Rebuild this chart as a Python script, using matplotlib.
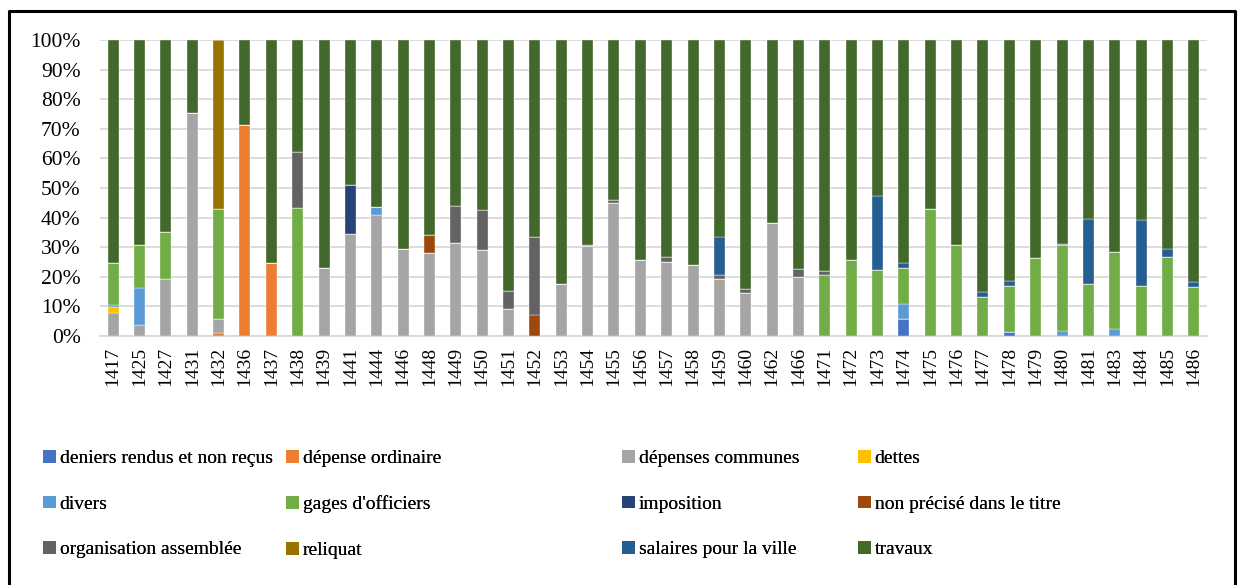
import numpy as np
import matplotlib
matplotlib.use("Agg")
import matplotlib.pyplot as plt
from matplotlib.patches import Patch
from matplotlib.lines import Line2D

years = ["1417", "1425", "1427", "1431", "1432", "1436", "1437", "1438", "1439", "1441",
         "1444", "1446", "1448", "1449", "1450", "1451", "1452", "1453", "1454", "1455",
         "1456", "1457", "1458", "1459", "1460", "1462", "1466", "1471", "1472", "1473",
         "1474", "1475", "1476", "1477", "1478", "1479", "1480", "1481", "1483", "1484",
         "1485", "1486"]

# share of each heading per year, in %
deniers_rendus = [0, 0, 0, 0, 0, 0, 0, 0, 0, 0,
                  0, 0, 0, 0, 0, 0, 0, 0, 0, 0,
                  0, 0, 0, 0, 0, 0, 0, 0, 0, 0,
                  5.9, 0, 0, 0, 1.4, 0, 0, 0, 0, 0,
                  0, 0]
depense_ordinaire = [0, 0, 0, 0, 0.9, 71.2, 24.7, 0, 0, 0,
                     0, 0, 0, 0, 0, 0, 0, 0, 0, 0,
                     0, 0, 0, 0, 0, 0, 0, 0, 0, 0,
                     0, 0, 0, 0, 0, 0, 0, 0, 0, 0,
                     0, 0]
depenses_communes = [7.9, 3.7, 19.3, 75.2, 4.8, 0, 0, 0, 23.1, 34.5,
                     40.9, 29.4, 28.0, 31.3, 29.1, 9.1, 0, 17.5, 30.4, 45.0,
                     25.7, 25.0, 23.9, 19.4, 14.5, 38.2, 19.8, 0, 0, 0,
                     0, 0, 0, 0, 0, 0, 0, 0, 0, 0,
                     0, 0]
dettes = [1.9, 0, 0, 0, 0, 0, 0, 0, 0, 0,
          0, 0, 0, 0, 0, 0, 0, 0, 0, 0,
          0, 0, 0, 0, 0, 0, 0, 0, 0, 0,
          0, 0, 0, 0, 0, 0, 0, 0, 0, 0,
          0, 0]
divers = [0.7, 12.4, 0, 0, 0, 0, 0, 0, 0, 0,
          2.6, 0, 0, 0, 0, 0, 0, 0, 0, 0,
          0, 0, 0, 0, 0, 0, 0, 0, 0, 0,
          4.8, 0, 0, 0, 0, 0, 1.8, 0, 2.3, 0,
          0, 0]
gages_officiers = [14.3, 14.8, 15.7, 0, 37.2, 0, 0, 43.2, 0, 0,
                   0, 0, 0, 0, 0, 0, 0, 0, 0, 0,
                   0, 0, 0, 0, 0, 0, 0, 20.5, 25.8, 22.4,
                   12.4, 42.8, 30.7, 13.3, 15.4, 26.4, 28.9, 17.5, 26.0, 16.9,
                   26.6, 16.6]
imposition = [0, 0, 0, 0, 0, 0, 0, 0, 0, 16.6,
              0, 0, 0, 0, 0, 0, 0, 0, 0, 0,
              0, 0, 0, 0, 0, 0, 0, 0, 0, 0,
              0, 0, 0, 0, 0, 0, 0, 0, 0, 0,
              0, 0]
non_precise = [0, 0, 0, 0, 0, 0, 0, 0, 0, 0,
               0, 0, 6.0, 0, 0, 0, 7.0, 0, 0, 0,
               0, 0, 0, 0, 0, 0, 0, 0, 0, 0,
               0, 0, 0, 0, 0, 0, 0, 0, 0, 0,
               0, 0]
organisation = [0, 0, 0, 0, 0, 0, 0, 19.0, 0, 0,
                0, 0, 0, 12.5, 13.4, 6.1, 26.3, 0, 0.3, 0.8,
                0, 1.7, 0, 1.2, 1.4, 0, 2.8, 1.3, 0, 0,
                0, 0, 0, 0, 0, 0, 0.4, 0, 0, 0,
                0, 0]
reliquat = [0, 0, 0, 0, 57.1, 0, 0, 0, 0, 0,
            0, 0, 0, 0, 0, 0, 0, 0, 0, 0,
            0, 0, 0, 0, 0, 0, 0, 0, 0, 0,
            0, 0, 0, 0, 0, 0, 0, 0, 0, 0,
            0, 0]
salaires_ville = [0, 0, 0, 0, 0, 0, 0, 0, 0, 0,
                  0, 0, 0, 0, 0, 0, 0, 0, 0, 0,
                  0, 0, 0, 12.7, 0, 0, 0, 0, 0, 24.8,
                  1.4, 0, 0, 1.6, 1.7, 0, 0, 21.9, 0, 22.4,
                  2.7, 1.6]
travaux = [75.2, 69.1, 65.0, 24.8, 0, 28.8, 75.3, 37.8, 76.9, 48.9,
           56.5, 70.6, 66.0, 56.2, 57.5, 84.8, 66.7, 82.5, 69.3, 54.2,
           74.3, 73.3, 76.1, 66.7, 84.1, 61.8, 77.4, 78.2, 74.2, 52.8,
           75.5, 57.2, 69.3, 85.1, 81.5, 73.6, 68.9, 60.6, 71.7, 60.7,
           70.7, 81.8]

labels = ["deniers rendus et non reçus", "dépense ordinaire", "dépenses communes", "dettes",
          "divers", "gages d'officiers", "imposition", "non précisé dans le titre",
          "organisation assemblée", "reliquat", "salaires pour la ville", "travaux"]
colors = ["#4472C4", "#ED7D31", "#A5A5A5", "#FFC000",
          "#5B9BD5", "#70AD47", "#264478", "#9E480E",
          "#636363", "#997300", "#255E91", "#43682B"]
series = [deniers_rendus, depense_ordinaire, depenses_communes, dettes,
          divers, gages_officiers, imposition, non_precise,
          organisation, reliquat, salaires_ville, travaux]

plt.rcParams["font.family"] = ["Liberation Serif", "DejaVu Serif"]

fig = plt.figure(figsize=(12.38, 5.85), dpi=100)
ax = fig.add_axes([100 / 1238, 1 - 336 / 585, 1107 / 1238, 296 / 585])

x = np.arange(len(years))
data = np.array(series, dtype=float)
totals = data.sum(axis=0)
shares = data / totals * 100
bottom = np.zeros(len(years))
for vals, col in zip(shares, colors):
    ax.bar(x, vals, bottom=bottom, width=0.42, color=col,
           edgecolor="white", linewidth=0.25, zorder=3)
    bottom += vals

ax.set_xlim(-0.5, len(years) - 0.5)
ax.set_ylim(0, 100)
ax.set_yticks(np.arange(0, 101, 10))
ax.set_yticklabels([f"{v}%" for v in range(0, 101, 10)])
ax.set_xticks(x)
ax.set_xticklabels(years, rotation=90)
ax.tick_params(axis="y", length=0, labelsize=15.5, pad=14)
ax.tick_params(axis="x", length=0, labelsize=14, pad=8)
ax.yaxis.grid(True, color="#D9D9D9", linewidth=1.3, zorder=0)
for side in ["top", "right", "left"]:
    ax.spines[side].set_visible(False)
ax.spines["bottom"].set_color("#D9D9D9")
ax.spines["bottom"].set_linewidth(1.3)

# legend laid out as four columns with Excel's uneven spacing
col_x = [43, 286, 622, 858]
handles = [Patch(facecolor=c, edgecolor="none") for c in colors]
for ci, cx in enumerate(col_x):
    idx = [ci, ci + 4, ci + 8]
    leg = fig.legend([handles[i] for i in idx], [labels[i] for i in idx],
                     loc="upper left", bbox_to_anchor=(cx / 1238, 1 - 450 / 585),
                     frameon=False, fontsize=14, handlelength=0.65, handleheight=0.65,
                     handletextpad=0.2, labelspacing=1.45, borderpad=0,
                     borderaxespad=0)
    fig.add_artist(leg)

# outer frame (open at the bottom)
frame = Line2D([9 / 1238, 9 / 1238, 1235 / 1238, 1235 / 1238],
               [0, 1 - 11 / 585, 1 - 11 / 585, 0],
               transform=fig.transFigure, color="black", linewidth=2.2)
fig.add_artist(frame)

fig.savefig("out.png", dpi=100, facecolor="white")
